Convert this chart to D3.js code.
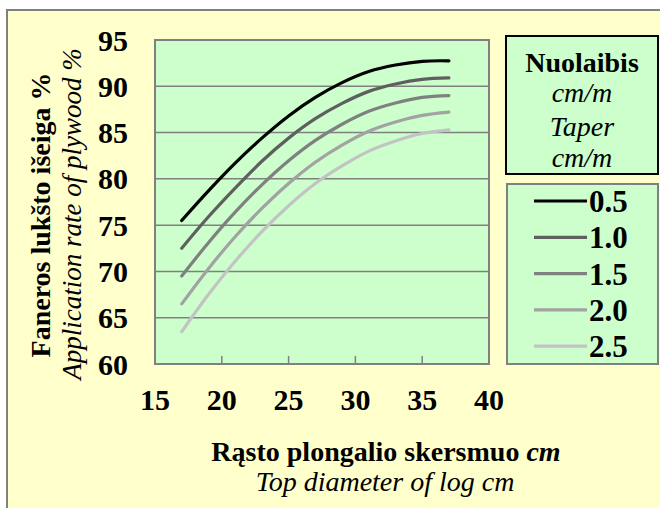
<!DOCTYPE html>
<html>
<head>
<meta charset="utf-8">
<script src="https://cdn.jsdelivr.net/npm/d3@7"></script>
<style>
  body { margin: 0; background: #fff; }
  text { font-family: "Liberation Serif", "Times New Roman", Times, serif; }
</style>
</head>
<body>
<div id="chart"></div>
<script>
// log top diameter (cm), every 2 cm
var diameters = [17, 19, 21, 23, 25, 27, 29, 31, 33, 35, 37]

// taper classes (cm/m)
var tapers = ['0.5', '1.0', '1.5', '2.0', '2.5']

// plywood yield % for each taper class
var yield05 = [75.5, 78.7, 81.7, 84.4, 86.8, 88.8, 90.4, 91.6, 92.3, 92.7, 92.75]
var yield10 = [72.5, 75.9, 79.0, 81.9, 84.4, 86.5, 88.15, 89.45, 90.25, 90.75, 90.9]
var yield15 = [69.5, 73.1, 76.4, 79.35, 81.95, 84.15, 85.9, 87.3, 88.2, 88.8, 89.0]
var yield20 = [66.5, 70.3, 73.75, 76.8, 79.5, 81.8, 83.65, 85.15, 86.15, 86.85, 87.2]
var yield25 = [63.5, 67.5, 71.1, 74.3, 77.1, 79.5, 81.4, 83.0, 84.1, 84.9, 85.3]

var xTicks = [15, 20, 25, 30, 35, 40]
var yTicks = [60, 65, 70, 75, 80, 85, 90, 95]

var series = [yield05, yield10, yield15, yield20, yield25]
var color = d3.scaleOrdinal()
    .domain(tapers)
    .range(['#000000', '#5f5f5f', '#808080', '#a2a2a2', '#c3c3c3'])

var W = 660, H = 508
// plot area
var plot = {left: 155, top: 40, right: 489, bottom: 364}

var x = d3.scaleLinear().domain([15, 40]).range([plot.left, plot.right])
var y = d3.scaleLinear().domain([60, 95]).range([plot.bottom, plot.top])

var svg = d3.select('#chart')
  .append('svg')
  .attr('width', W)
  .attr('height', H)

// outer chart frame
svg.append('rect')
  .attr('x', 7).attr('y', 10)
  .attr('width', W).attr('height', H)
  .attr('fill', '#ffffcc')
  .attr('stroke', '#808080')
  .attr('stroke-width', 2)

// plot background
svg.append('rect')
  .attr('x', plot.left).attr('y', plot.top)
  .attr('width', plot.right - plot.left)
  .attr('height', plot.bottom - plot.top)
  .attr('fill', '#ccffcc')

// horizontal gridlines
svg.append('g')
  .selectAll('line')
  .data(yTicks.slice(1, -1))
  .enter()
  .append('line')
  .attr('x1', plot.left).attr('x2', plot.right)
  .attr('y1', function(d) { return y(d) })
  .attr('y2', function(d) { return y(d) })
  .attr('stroke', '#808080')
  .attr('stroke-width', 1.5)

// inward ticks on the x axis
svg.append('g')
  .selectAll('line')
  .data(xTicks.slice(1, -1))
  .enter()
  .append('line')
  .attr('x1', function(d) { return x(d) })
  .attr('x2', function(d) { return x(d) })
  .attr('y1', plot.bottom).attr('y2', plot.bottom - 8)
  .attr('stroke', '#808080')
  .attr('stroke-width', 1.5)

// plot frame
svg.append('rect')
  .attr('x', plot.left).attr('y', plot.top)
  .attr('width', plot.right - plot.left)
  .attr('height', plot.bottom - plot.top)
  .attr('fill', 'none')
  .attr('stroke', '#808080')
  .attr('stroke-width', 2)

// tick labels
svg.append('g')
  .selectAll('text')
  .data(yTicks)
  .enter()
  .append('text')
  .attr('x', 128)
  .attr('y', function(d) { return y(d) })
  .attr('dy', '0.35em')
  .attr('text-anchor', 'end')
  .style('font-size', '30px')
  .style('font-weight', 'bold')
  .text(function(d) { return d })

svg.append('g')
  .selectAll('text')
  .data(xTicks)
  .enter()
  .append('text')
  .attr('x', function(d) { return x(d) })
  .attr('y', 410)
  .attr('text-anchor', 'middle')
  .style('font-size', '30px')
  .style('font-weight', 'bold')
  .text(function(d) { return d })

// the yield curves
var line = d3.line()
  .x(function(d, i) { return x(diameters[i]) })
  .y(function(d) { return y(d) })
  .curve(d3.curveCatmullRom)

svg.append('g')
  .selectAll('path')
  .data(series)
  .enter()
  .append('path')
  .attr('d', line)
  .attr('fill', 'none')
  .attr('stroke', function(d, i) { return color(tapers[i]) })
  .attr('stroke-width', 3.2)
  .attr('stroke-linecap', 'round')

// axis titles
svg.append('text')
  .attr('transform', 'translate(50,215) rotate(-90)')
  .attr('text-anchor', 'middle')
  .style('font-size', '28px')
  .style('font-weight', 'bold')
  .text('Faneros lukšto išeiga %')

svg.append('text')
  .attr('transform', 'translate(81,214) rotate(-90)')
  .attr('text-anchor', 'middle')
  .style('font-size', '27px')
  .style('font-style', 'italic')
  .text('Application rate of plywood %')

var xTitle = svg.append('text')
  .attr('x', 386)
  .attr('y', 461)
  .attr('text-anchor', 'middle')
  .style('font-size', '28px')
  .style('font-weight', 'bold')
xTitle.append('tspan').text('Rąsto plongalio skersmuo ')
xTitle.append('tspan').style('font-style', 'italic').text('cm')

svg.append('text')
  .attr('x', 385)
  .attr('y', 491)
  .attr('text-anchor', 'middle')
  .style('font-size', '28px')
  .style('font-style', 'italic')
  .text('Top diameter of log cm')

// legend title box
svg.append('rect')
  .attr('x', 506).attr('y', 36)
  .attr('width', 152).attr('height', 138)
  .attr('fill', '#ccffcc')
  .attr('stroke', '#000')
  .attr('stroke-width', 2)

var titleLines = [
  {t: 'Nuolaibis', b: true, y: 72},
  {t: 'cm/m', b: false, y: 102},
  {t: 'Taper', b: false, y: 136},
  {t: 'cm/m', b: false, y: 167}
]
svg.append('g')
  .selectAll('text')
  .data(titleLines)
  .enter()
  .append('text')
  .attr('x', 582)
  .attr('y', function(d) { return d.y })
  .attr('text-anchor', 'middle')
  .style('font-size', '28px')
  .style('font-weight', function(d) { return d.b ? 'bold' : 'normal' })
  .style('font-style', function(d) { return d.b ? 'normal' : 'italic' })
  .text(function(d) { return d.t })

// legend entries box
svg.append('rect')
  .attr('x', 507).attr('y', 184)
  .attr('width', 151).attr('height', 180)
  .attr('fill', '#ccffcc')
  .attr('stroke', '#808080')
  .attr('stroke-width', 2)

var legend = svg.selectAll('.legend')
  .data(tapers)
  .enter()
  .append('g')
  .attr('class', 'legend')
  .attr('transform', function(d, i) { return 'translate(0,' + (201 + i * 36.3) + ')' })

legend.append('line')
  .attr('x1', 534).attr('x2', 587)
  .attr('stroke', function(d) { return color(d) })
  .attr('stroke-width', 3.2)

legend.append('text')
  .attr('x', 589)
  .attr('y', 11)
  .style('font-size', '31px')
  .style('font-weight', 'bold')
  .text(function(d) { return d })
</script>
</body>
</html>
